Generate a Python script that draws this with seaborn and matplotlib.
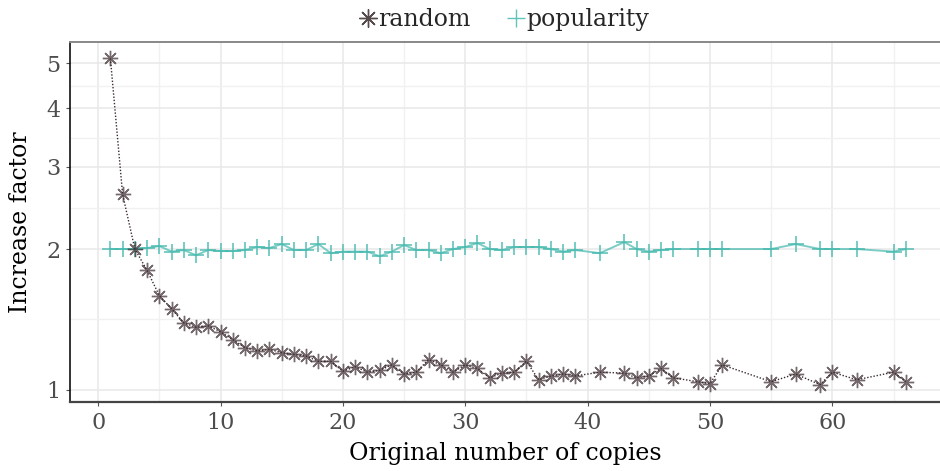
import numpy as np
import pandas as pd
import matplotlib
matplotlib.use("Agg")
import matplotlib.pyplot as plt
from matplotlib.lines import Line2D
from matplotlib.colors import to_rgba
import seaborn as sns

# Original number of copies at which the increase factor was measured
copies = [1, 2, 3, 4, 5, 6, 7, 8, 9, 10, 11, 12, 13, 14, 15, 16, 17, 18, 19, 20,
          21, 22, 23, 24, 25, 26, 27, 28, 29, 30, 31, 32, 33, 34, 35, 36, 37, 38, 39,
          41, 43, 44, 45, 46, 47, 49, 50, 51, 55, 57, 59, 60, 62, 65, 66]

random_factor = [5.12, 2.62, 2.00, 1.80, 1.59, 1.49, 1.39, 1.36, 1.37, 1.33,
                 1.28, 1.23, 1.21, 1.22, 1.20, 1.19, 1.18, 1.15, 1.15, 1.095,
                 1.12, 1.09, 1.10, 1.13, 1.08, 1.09, 1.16, 1.13, 1.09, 1.13,
                 1.11, 1.06, 1.085, 1.09, 1.15, 1.05, 1.07, 1.08, 1.07,
                 1.09, 1.085, 1.06, 1.07, 1.11, 1.06, 1.04, 1.03, 1.13,
                 1.04, 1.08, 1.025, 1.09, 1.05, 1.09, 1.04]

popularity_factor = [2.00, 2.00, 2.00, 2.01, 2.03, 1.975, 1.99, 1.94, 1.99, 1.98,
                     1.98, 1.99, 2.02, 2.01, 2.05, 1.99, 1.99, 2.05, 1.96, 1.975,
                     1.975, 1.975, 1.93, 1.975, 2.04, 1.99, 1.99, 1.96, 2.00, 2.02,
                     2.06, 2.00, 1.99, 2.02, 2.02, 2.02, 2.00, 1.975, 1.99,
                     1.96, 2.07, 2.00, 1.975, 1.99, 2.00, 2.00, 2.00, 2.00,
                     2.00, 2.05, 2.00, 2.00, 2.00, 1.975, 2.00]

methods = ["random", "popularity"]
y_ticks = [1, 2, 3, 4, 5]
x_ticks = [0, 10, 20, 30, 40, 50, 60]

df = pd.DataFrame({
    "copies": copies * 2,
    "factor": random_factor + popularity_factor,
    "method": ["random"] * len(copies) + ["popularity"] * len(copies),
})

SERIF = ["DejaVu Serif"]
sns.set_theme(style="white")
plt.rcParams["font.family"] = SERIF

colors = {"random": "#3a2a2e", "popularity": "#45b9ae"}
markers = {"random": (8, 2, 0), "popularity": "+"}

fig = plt.figure(figsize=(9.4, 4.71), dpi=100)
ax = fig.add_axes([70 / 940, 69 / 471, 870 / 940, 360 / 471])

sub = df[df.method == "random"]
sns.lineplot(data=sub, x="copies", y="factor", ax=ax, color=colors["random"],
             linestyle=(0, (1, 1.3)), linewidth=1.0, marker=markers["random"],
             markersize=11, markeredgewidth=1.0,
             markeredgecolor=to_rgba(colors["random"], 0.7),
             zorder=3, legend=False)
sub = df[df.method == "popularity"]
sns.lineplot(data=sub, x="copies", y="factor", ax=ax,
             color=to_rgba(colors["popularity"], 0.7),
             linewidth=1.4, marker=markers["popularity"], markersize=12,
             markeredgewidth=1.2,
             markeredgecolor=to_rgba(colors["popularity"], 0.85),
             zorder=2, legend=False)

ax.set_yscale("log")
ax.set_xlim(-2.3, 68.8)
ax.set_ylim(0.941, 5.55)

ax.set_yticks(y_ticks)
ax.set_yticklabels([str(v) for v in y_ticks])
ax.set_yticks([np.sqrt(a * b) for a, b in zip(y_ticks[:-1], y_ticks[1:])], minor=True)
ax.yaxis.set_minor_formatter(matplotlib.ticker.NullFormatter())
ax.set_xticks(x_ticks)
ax.set_xticks([5, 15, 25, 35, 45, 55, 65], minor=True)

ax.grid(True, which="major", color="#e8e8e8", linewidth=1.1)
ax.grid(True, which="minor", color="#f1f1f1", linewidth=1.0)
ax.set_axisbelow(True)

ax.tick_params(axis="both", which="major", length=3, width=0.8, color="#555555",
               labelsize=16, labelcolor="#4d4d4d", pad=4, direction="out")
ax.tick_params(axis="both", which="minor", length=0)
ax.tick_params(left=True, bottom=True)

ax.spines["right"].set_visible(False)
ax.spines["left"].set_color("#111111")
ax.spines["left"].set_linewidth(1.2)
ax.spines["bottom"].set_color("#444444")
ax.spines["bottom"].set_linewidth(1.6)
ax.spines["top"].set_color("#888888")
ax.spines["top"].set_linewidth(1.4)

ax.set_xlabel("Original number of copies", fontsize=17, color="black", labelpad=6)
ax.set_ylabel("Increase factor", fontsize=17, color="black", labelpad=10)

handles = [
    Line2D([], [], linestyle="none", marker=markers[m], markersize=13,
           markeredgewidth=1.0, color=colors[m], alpha=0.85)
    for m in methods
]
fig.legend(handles, methods, loc="center", bbox_to_anchor=(0.537, 0.958), ncol=2,
           frameon=False, fontsize=17, handlelength=0.6, handletextpad=0.15,
           columnspacing=1.6)

fig.savefig("out.png", dpi=100)
